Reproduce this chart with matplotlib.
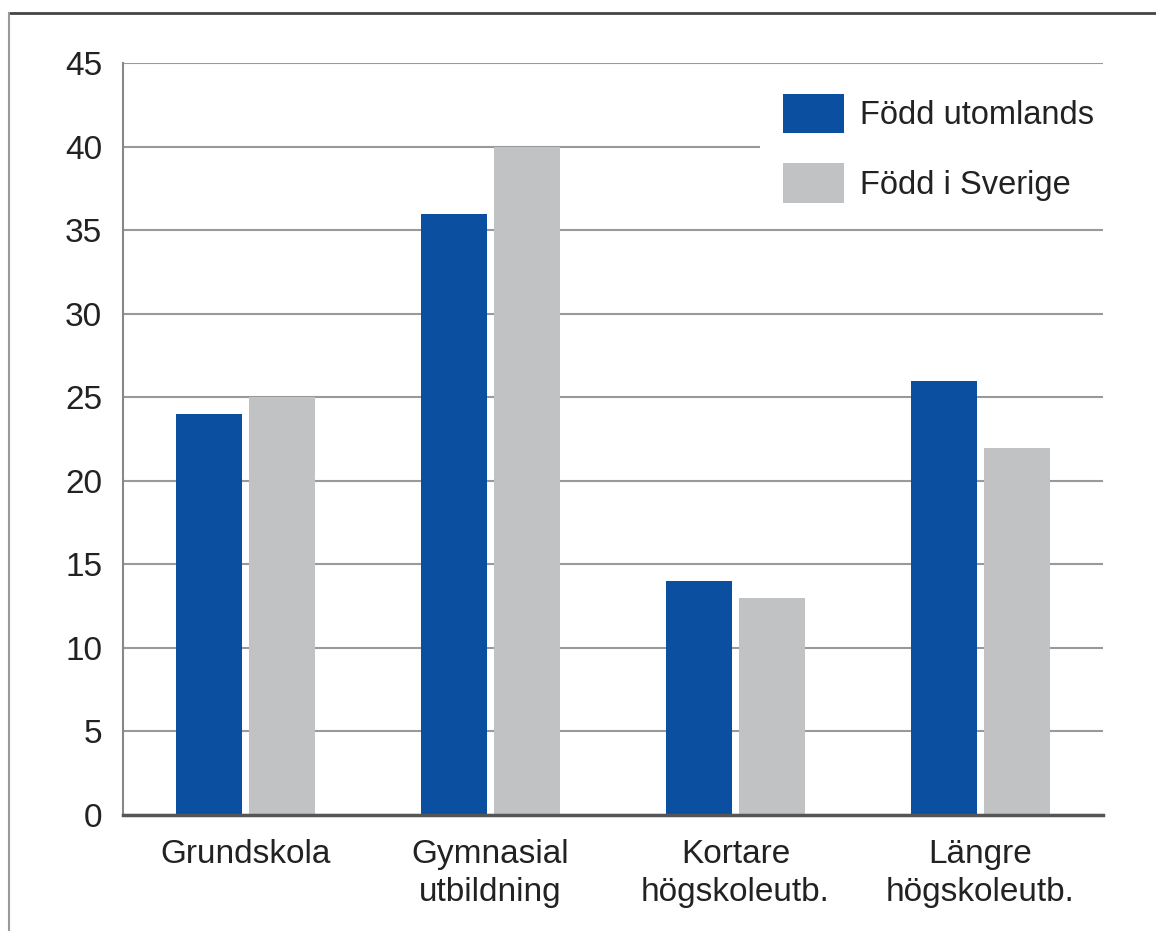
import matplotlib
matplotlib.use("Agg")
import matplotlib.pyplot as plt
from matplotlib.lines import Line2D
import numpy as np

plt.rcParams['font.family'] = ['Liberation Sans', 'DejaVu Sans']

categories = ["Grundskola", "Gymnasial\nutbildning", "Kortare\nhögskoleutb.", "Längre\nhögskoleutb."]
series_names = ["Född utomlands", "Född i Sverige"]
fodd_utomlands = [24, 36, 14, 26]
fodd_sverige = [25, 40, 13, 22]
yticks = [0, 5, 10, 15, 20, 25, 30, 35, 40, 45]

blue = "#0b4fa0"
grey = "#c1c2c4"
txt = "#222222"

fig = plt.figure(figsize=(11.56, 9.31), dpi=100)
ax = fig.add_axes([0.1064, 0.1246, 0.954 - 0.1064, 0.932 - 0.1246])

x = np.arange(len(categories))
w = 0.27
ax.bar(x - 0.15, fodd_utomlands, w, color=blue, label=series_names[0], zorder=3)
ax.bar(x + 0.15, fodd_sverige, w, color=grey, label=series_names[1], zorder=3)

ax.set_xlim(-0.5, 3.5)
ax.set_ylim(0, 45)
ax.set_yticks(yticks)
ax.set_xticks(x)
ax.set_xticklabels(categories, linespacing=1.3)
ax.tick_params(axis='y', length=0, pad=15, labelsize=24, labelcolor=txt)
ax.tick_params(axis='x', length=0, pad=17, labelsize=24, labelcolor=txt)

ax.yaxis.grid(True, color="#999999", linewidth=1.5, zorder=0)
ax.set_axisbelow(True)
for s in ["top", "right"]:
    ax.spines[s].set_visible(False)
ax.spines["left"].set_color("#888888")
ax.spines["left"].set_linewidth(1.5)
ax.spines["bottom"].set_color("#555555")
ax.spines["bottom"].set_linewidth(2.5)
ax.spines["bottom"].set_zorder(4)

leg = ax.legend(loc="upper left", bbox_to_anchor=(0.65, 0.99), borderaxespad=0,
                fontsize=23.5, frameon=True, fancybox=False, borderpad=0.7,
                handlelength=1.87, handleheight=1.5, handletextpad=0.5,
                labelspacing=0.9, labelcolor=txt)
leg.get_frame().set_facecolor("white")
leg.get_frame().set_edgecolor("none")
leg.get_frame().set_alpha(1)
leg.set_zorder(5)

# outer frame lines (top and left only)
fig.add_artist(Line2D([0.0078, 1.0], [0.986, 0.986], transform=fig.transFigure,
                      color="#444444", linewidth=2))
fig.add_artist(Line2D([0.0078, 0.0078], [0.0, 0.986], transform=fig.transFigure,
                      color="#999999", linewidth=1.5))

fig.savefig("out.png", dpi=100)
